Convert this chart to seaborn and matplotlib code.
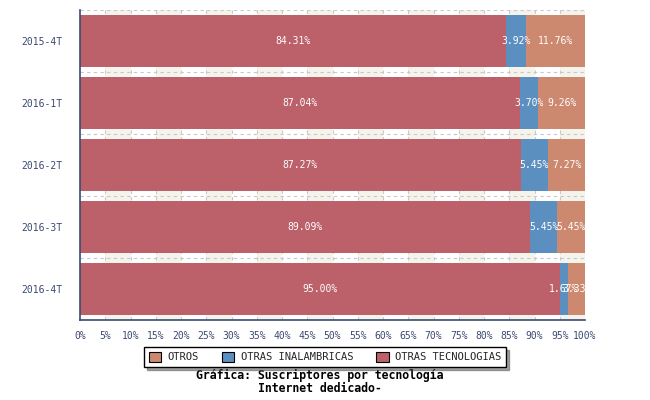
import matplotlib.pyplot as plt
import seaborn as sns
import numpy as np
from matplotlib.ticker import MultipleLocator, FixedLocator

periods = ["2015-4T", "2016-1T", "2016-2T", "2016-3T", "2016-4T"]
otras_tecnologias = [84.31, 87.04, 87.27, 89.09, 95.00]
otras_inalambricas = [3.92, 3.70, 5.45, 5.45, 1.67]
otros = [11.76, 9.26, 7.27, 5.45, 3.33]

C_TEC = "#bc606a"
C_INA = "#5b8fc0"
C_OTR = "#cd8870"
AXC = "#3c4a70"

sns.set_style("white")
plt.rcParams["font.family"] = ["DejaVu Sans Mono", "DejaVu Sans"]

fig = plt.figure(figsize=(6.5, 4), dpi=100)
ax = fig.add_axes([80 / 650, 80 / 400, 505 / 650, 310 / 400])

# light alternating bands every 5%
for start in range(5, 100, 10):
    ax.axvspan(start, start + 5, color="#f4f3ec", zorder=0, lw=0)
for x in range(5, 101, 5):
    ax.axvline(x, color="#c8c8c8", ls=(0, (3, 3)), lw=0.8, zorder=0.5)
for y in np.arange(-0.5, len(periods), 1.0):
    ax.axhline(y, color="#c8c8c8", ls=(0, (3, 3)), lw=0.8, zorder=0.5)

tec = np.array(otras_tecnologias)
ina = np.array(otras_inalambricas)
otr = np.array(otros)
layers = [
    (tec + ina + otr, C_OTR, "OTROS"),
    (tec + ina, C_INA, "OTRAS INALAMBRICAS"),
    (tec, C_TEC, "OTRAS TECNOLOGIAS"),
]
for vals, col, lab in layers:
    sns.barplot(x=vals, y=periods, color=col, orient="h", width=0.84,
                saturation=1, ax=ax, label=lab, zorder=2, linewidth=0)

for i in range(len(periods)):
    segs = [(0, tec[i]), (tec[i], ina[i]), (tec[i] + ina[i], otr[i])]
    for left, w in segs:
        ax.text(left + w / 2, i, f"{w:.2f}%", ha="center", va="center",
                color="white", fontsize=7, zorder=3)

ax.set_xlim(0, 100)
ax.set_ylim(len(periods) - 0.5, -0.5)
ax.xaxis.set_major_locator(MultipleLocator(5))
ax.xaxis.set_minor_locator(MultipleLocator(1))
ax.set_xticklabels([f"{int(v)}%" for v in ax.get_xticks()])
ax.yaxis.set_minor_locator(FixedLocator(np.arange(-0.5, len(periods), 1.0)))
ax.tick_params(axis="x", which="major", direction="in", length=5, color=AXC,
               labelsize=7, labelcolor=AXC, pad=8)
ax.tick_params(axis="x", which="minor", direction="in", length=3, color=AXC)
ax.tick_params(axis="y", which="major", length=0, labelsize=7, labelcolor=AXC, pad=13)
ax.tick_params(axis="y", which="minor", direction="out", length=5, color=AXC)
for s in ["top", "right"]:
    ax.spines[s].set_visible(False)
for s in ["left", "bottom"]:
    ax.spines[s].set_color(AXC)
    ax.spines[s].set_linewidth(1.2)
ax.set_xlabel("")
ax.set_ylabel("")

handles, labels = ax.get_legend_handles_labels()
if ax.get_legend():
    ax.get_legend().remove()
leg = fig.legend(handles, labels, loc="center", bbox_to_anchor=(325 / 650, 1 - 357 / 400),
                 ncol=3, frameon=True, fancybox=False, shadow=True, fontsize=7.5,
                 edgecolor="black", handlelength=1.2, handleheight=1.1,
                 columnspacing=2.2, handletextpad=0.6, borderpad=0.45,
                 borderaxespad=0)
leg.get_frame().set_linewidth(1.0)
for h in leg.legend_handles:
    h.set_edgecolor("black")
    h.set_linewidth(0.8)

fig.text(320 / 650, 1 - 375 / 400, "Gráfica: Suscriptores por tecnología",
         ha="center", va="center", fontsize=8.3, fontweight="bold", color="black")
fig.text(320 / 650, 1 - 388 / 400, "Internet dedicado-",
         ha="center", va="center", fontsize=8.3, fontweight="bold", color="black")

fig.savefig("out.png", dpi=100)
